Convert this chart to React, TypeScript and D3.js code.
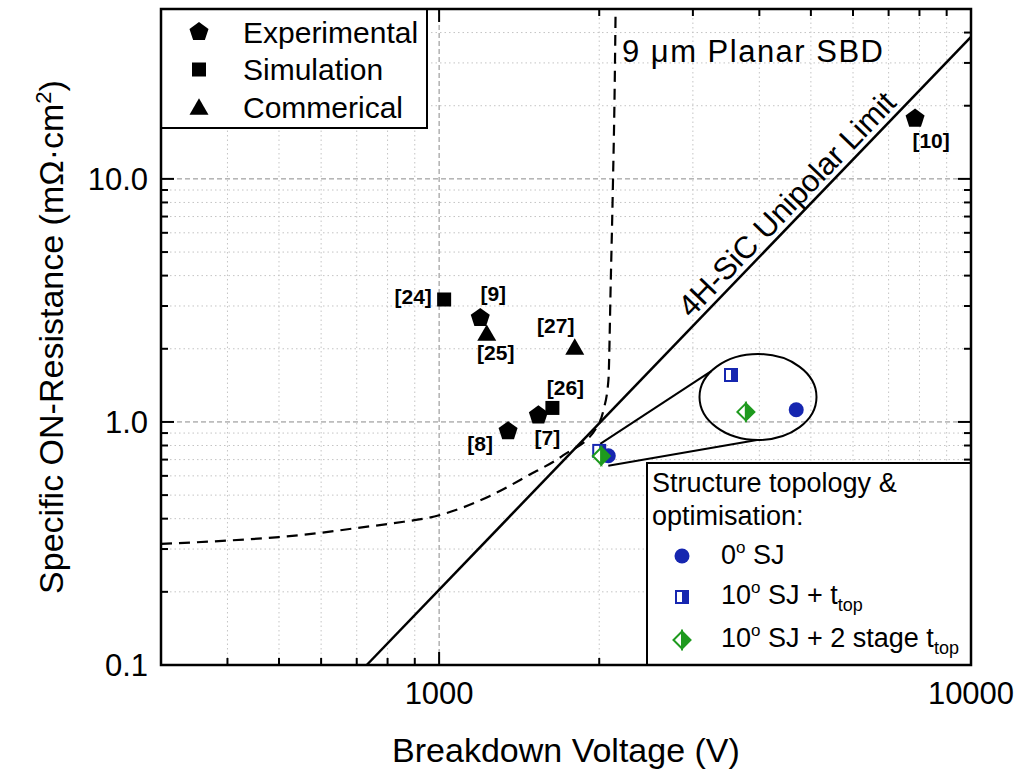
import * as d3 from "d3";

const FONT = "'Liberation Sans', Arial, Helvetica, sans-serif";

// ---------------------------------------------------------------------------
// Axes
// ---------------------------------------------------------------------------

const X_DOMAIN: [number, number] = [300, 10000];
const Y_DOMAIN: [number, number] = [0.1, 50];
const X_MAJOR = [1000, 10000];
const X_MAJOR_LABELS = ["1000", "10000"];
const Y_MAJOR = [0.1, 1, 10];
const Y_MAJOR_LABELS = ["0.1", "1.0", "10.0"];

// ---------------------------------------------------------------------------
// Literature devices (breakdown V, Ron,sp mΩ·cm²)
// ---------------------------------------------------------------------------

const EXP_REFS = ["[10]", "[9]", "[7]", "[8]"];
const EXP_V = [7850, 1195, 1537, 1348];
const EXP_R = [17.7, 2.68, 1.065, 0.916];

const SIM_REFS = ["[24]", "[26]"];
const SIM_V = [1022, 1633];
const SIM_R = [3.19, 1.142];

const COM_REFS = ["[25]", "[27]"];
const COM_V = [1229, 1799];
const COM_R = [2.32, 2.035];

// label placement around each marker (px)
const REF_LABEL_OFFSET: Record<string, [number, number]> = {
  "[10]": [16, 22],
  "[9]": [13, -24],
  "[7]": [9, 22],
  "[8]": [-28, 12],
  "[24]": [-31, -3],
  "[26]": [13, -20],
  "[25]": [9, 20],
  "[27]": [-19, -21],
};

// ---------------------------------------------------------------------------
// This work: 0° SJ, 10° SJ + t_top, 10° SJ + 2 stage t_top
// ---------------------------------------------------------------------------

const SJ_V = [2080, 2000, 2018];
const SJ_R = [0.726, 0.76, 0.724];

// ---------------------------------------------------------------------------
// Reference curves
// ---------------------------------------------------------------------------

const LIMIT_V = [731, 10000];
const LIMIT_R = [0.1, 38.4];

const SBD_V = [300, 400, 500, 600, 700, 820, 1000, 1265, 1460, 1710, 1980, 2037, 2081, 2102, 2123, 2138, 2147];
const SBD_R = [0.315, 0.325, 0.336, 0.35, 0.366, 0.383, 0.413, 0.504, 0.597, 0.728, 0.954, 1.117, 1.484, 3.72, 9.88, 23.2, 50];

const BLUE = "#1626b0";
const GREEN = "#1e9a1e";

// ---------------------------------------------------------------------------
// Marker shapes
// ---------------------------------------------------------------------------

function pentagon(r: number) {
  const pts = d3.range(5).map((i) => {
    const a = -Math.PI / 2 + (i * 2 * Math.PI) / 5;
    return [r * Math.cos(a), r * Math.sin(a)];
  });
  return "M" + pts.map((p) => p.join(",")).join("L") + "Z";
}

function triangle(w: number) {
  const h = (w * Math.sqrt(3)) / 2;
  return `M0,${-h / 2 - 0.5}L${-w / 2},${h / 2 - 0.5}L${w / 2},${h / 2 - 0.5}Z`;
}

function Marker({ kind, cx, cy }: { kind: string; cx: number; cy: number }) {
  if (kind === "exp") return <path d={pentagon(10)} transform={`translate(${cx},${cy})`} fill="#000" />;
  if (kind === "sim") return <rect x={cx - 7} y={cy - 7} width={14} height={14} fill="#000" />;
  if (kind === "com") return <path d={triangle(19)} transform={`translate(${cx},${cy})`} fill="#000" />;
  if (kind === "sj0") return <circle cx={cx} cy={cy} r={7.5} fill={BLUE} />;
  if (kind === "sj10") {
    const s = 12;
    return (
      <g>
        <rect x={cx - s / 2} y={cy - s / 2} width={s} height={s} fill="#fff" stroke={BLUE} strokeWidth={2} />
        <rect x={cx} y={cy - s / 2} width={s / 2} height={s} fill={BLUE} />
      </g>
    );
  }
  // sj10 two stage: half filled diamond
  const d = 8.5;
  return (
    <g transform={`translate(${cx},${cy})`}>
      <path d={`M0,${-d}L${-d},0L0,${d}Z`} fill="#fff" stroke={GREEN} strokeWidth={2} strokeLinejoin="miter" />
      <path d={`M0,${-d}L${d},0L0,${d}Z`} fill={GREEN} stroke={GREEN} strokeWidth={2} />
    </g>
  );
}

// ---------------------------------------------------------------------------
// Chart
// ---------------------------------------------------------------------------

export default function App() {
  const left = 161;
  const right = 971;
  const top = 9;
  const bottom = 665;

  const x = d3.scaleLog().domain(X_DOMAIN).range([left, right]);
  const y = d3.scaleLog().domain(Y_DOMAIN).range([bottom, top]);

  const xMinor = x.ticks().filter((v) => !X_MAJOR.includes(v) && v > X_DOMAIN[0] && v < X_DOMAIN[1]);
  const yMinor = y.ticks().filter((v) => !Y_MAJOR.includes(v) && v > Y_DOMAIN[0] && v < Y_DOMAIN[1]);

  const sbdLine = d3
    .line<number>()
    .x((_d, i) => x(SBD_V[i]))
    .y((_d, i) => y(SBD_R[i]))
    .curve(d3.curveMonotoneX)(SBD_V);

  // unipolar limit + rotated label
  const lA = [x(LIMIT_V[0]), y(LIMIT_R[0])];
  const lB = [x(LIMIT_V[1]), y(LIMIT_R[1])];
  const angle = (Math.atan2(lB[1] - lA[1], lB[0] - lA[0]) * 180) / Math.PI;
  const t = 0.715;
  const lblX = lA[0] + (lB[0] - lA[0]) * t;
  const lblY = lA[1] + (lB[1] - lA[1]) * t;

  const refs = [
    ...EXP_REFS.map((r, i) => ({ ref: r, kind: "exp", v: EXP_V[i], r: EXP_R[i] })),
    ...SIM_REFS.map((r, i) => ({ ref: r, kind: "sim", v: SIM_V[i], r: SIM_R[i] })),
    ...COM_REFS.map((r, i) => ({ ref: r, kind: "com", v: COM_V[i], r: COM_R[i] })),
  ];

  const sjKinds = ["sj0", "sj10", "sj10b"];
  const sj = sjKinds.map((k, i) => ({ kind: k, px: x(SJ_V[i]), py: y(SJ_R[i]) }));
  const drawOrder = [1, 0, 2];

  // magnified inset of the cluster
  const k = 7.2;
  const anchor = sj[1];
  const inset0 = [731, 375];
  const inset = sj.map((p) => ({
    kind: p.kind,
    px: inset0[0] + k * (p.px - anchor.px),
    py: inset0[1] + k * (p.py - anchor.py),
  }));
  const ell = { cx: 758, cy: 397, rx: 58.5, ry: 43 };
  const ellPt = (deg: number) => [
    ell.cx + ell.rx * Math.cos((deg * Math.PI) / 180),
    ell.cy + ell.ry * Math.sin((deg * Math.PI) / 180),
  ];
  const upEnd = ellPt(217);
  const lowEnd = ellPt(91);

  const gridMinor = { stroke: "#c4c4c4", strokeWidth: 1, strokeDasharray: "1.5,3" };
  const gridMajor = { stroke: "#8a8a8a", strokeWidth: 1, strokeDasharray: "5,3" };

  return (
    <svg
      width={1032}
      height={782}
      style={{ position: "absolute", left: 0, top: 0, background: "#fff" }}
      fontFamily={FONT}
    >
      <rect width={1032} height={782} fill="#fff" />

      {/* grid */}
      <g>
        {xMinor.map((v) => (
          <line key={`gx${v}`} x1={x(v)} x2={x(v)} y1={top} y2={bottom} {...gridMinor} />
        ))}
        {yMinor.map((v) => (
          <line key={`gy${v}`} x1={left} x2={right} y1={y(v)} y2={y(v)} {...gridMinor} />
        ))}
        {X_MAJOR.filter((v) => v < X_DOMAIN[1]).map((v) => (
          <line key={`GX${v}`} x1={x(v)} x2={x(v)} y1={top} y2={bottom} {...gridMajor} />
        ))}
        {Y_MAJOR.filter((v) => v > Y_DOMAIN[0]).map((v) => (
          <line key={`GY${v}`} x1={left} x2={right} y1={y(v)} y2={y(v)} {...gridMajor} />
        ))}
      </g>

      {/* ticks, inward on all four sides */}
      <g stroke="#000" strokeWidth={2}>
        {xMinor.map((v) => (
          <g key={`tx${v}`}>
            <line x1={x(v)} x2={x(v)} y1={bottom} y2={bottom - 7} />
            <line x1={x(v)} x2={x(v)} y1={top} y2={top + 7} />
          </g>
        ))}
        {X_MAJOR.map((v) => (
          <g key={`TX${v}`}>
            <line x1={x(v)} x2={x(v)} y1={bottom} y2={bottom - 13} />
            <line x1={x(v)} x2={x(v)} y1={top} y2={top + 13} />
          </g>
        ))}
        {yMinor.map((v) => (
          <g key={`ty${v}`}>
            <line x1={left} x2={left + 7} y1={y(v)} y2={y(v)} />
            <line x1={right} x2={right - 7} y1={y(v)} y2={y(v)} />
          </g>
        ))}
        {Y_MAJOR.map((v) => (
          <g key={`TY${v}`}>
            <line x1={left} x2={left + 13} y1={y(v)} y2={y(v)} />
            <line x1={right} x2={right - 13} y1={y(v)} y2={y(v)} />
          </g>
        ))}
      </g>

      {/* 9 um planar SBD */}
      <path d={sbdLine ?? ""} fill="none" stroke="#000" strokeWidth={2.2} strokeDasharray="11,7" />
      <text x={622} y={62} fontSize={31} textLength={261} lengthAdjust="spacing">
        9 μm Planar SBD
      </text>

      {/* unipolar limit */}
      <line x1={lA[0]} y1={lA[1]} x2={lB[0]} y2={lB[1]} stroke="#000" strokeWidth={2.5} />
      <text
        transform={`translate(${lblX},${lblY}) rotate(${angle})`}
        textAnchor="middle"
        dy={-6}
        fontSize={31}
      >
        4H-SiC Unipolar Limit
      </text>

      {/* literature */}
      {refs.map((d) => {
        const cx = x(d.v);
        const cy = y(d.r);
        const [dx, dy] = REF_LABEL_OFFSET[d.ref];
        return (
          <g key={d.ref}>
            <Marker kind={d.kind} cx={cx} cy={cy} />
            <text
              x={cx + dx}
              y={cy + dy}
              dy="0.35em"
              textAnchor="middle"
              fontSize={21}
              fontWeight="bold"
            >
              {d.ref}
            </text>
          </g>
        );
      })}

      {/* inset connectors + ellipse */}
      <g stroke="#000" strokeWidth={2} fill="none">
        <line x1={sj[1].px + 1} y1={sj[1].py - 7} x2={upEnd[0]} y2={upEnd[1]} />
        <line x1={sj[0].px} y1={sj[0].py + 10} x2={lowEnd[0]} y2={lowEnd[1]} />
        <ellipse cx={ell.cx} cy={ell.cy} rx={ell.rx} ry={ell.ry} />
      </g>

      {/* this work */}
      {drawOrder.map((i) => (
        <Marker key={`m${i}`} kind={sj[i].kind} cx={sj[i].px} cy={sj[i].py} />
      ))}
      {drawOrder.map((i) => (
        <Marker key={`z${i}`} kind={inset[i].kind} cx={inset[i].px} cy={inset[i].py} />
      ))}

      {/* legend: literature */}
      <g>
        <rect x={left} y={top} width={266} height={119} fill="#fff" stroke="#000" strokeWidth={2} />
        {[
          ["exp", "Experimental"],
          ["sim", "Simulation"],
          ["com", "Commerical"],
        ].map(([kd, lab], i) => (
          <g key={kd}>
            <Marker kind={kd} cx={199} cy={32 + i * 37.5} />
            <text x={243} y={32 + i * 37.5} dy="0.35em" fontSize={30}>
              {lab}
            </text>
          </g>
        ))}
      </g>

      {/* legend: structure */}
      <g>
        <rect x={647} y={463} width={right - 647} height={bottom - 463} fill="#fff" stroke="#000" strokeWidth={2} />
        <text x={652} y={492} fontSize={27}>
          Structure topology &amp;
        </text>
        <text x={652} y={525} fontSize={27}>
          optimisation:
        </text>
        <Marker kind="sj0" cx={682} cy={556} />
        <text x={721} y={564} fontSize={27}>
          0<tspan dy={-11} fontSize={17}>o</tspan>
          <tspan dy={11}> SJ</tspan>
        </text>
        <Marker kind="sj10" cx={682} cy={597} />
        <text x={721} y={604} fontSize={27}>
          10<tspan dy={-11} fontSize={17}>o</tspan>
          <tspan dy={11}> SJ + t</tspan>
          <tspan dy={7} fontSize={18}>top</tspan>
        </text>
        <Marker kind="sj10b" cx={682} cy={640} />
        <text x={721} y={647} fontSize={27}>
          10<tspan dy={-11} fontSize={17}>o</tspan>
          <tspan dy={11}> SJ + 2 stage t</tspan>
          <tspan dy={7} fontSize={18}>top</tspan>
        </text>
      </g>

      {/* frame */}
      <rect x={left} y={top} width={right - left} height={bottom - top} fill="none" stroke="#000" strokeWidth={2.5} />

      {/* tick labels */}
      {X_MAJOR.map((v, i) => (
        <text key={`lx${v}`} x={x(v)} y={704} textAnchor="middle" fontSize={31}>
          {X_MAJOR_LABELS[i]}
        </text>
      ))}
      {Y_MAJOR.map((v, i) => (
        <text key={`ly${v}`} x={148} y={y(v)} dy="0.35em" textAnchor="end" fontSize={31}>
          {Y_MAJOR_LABELS[i]}
        </text>
      ))}

      {/* axis titles */}
      <text x={566} y={762} textAnchor="middle" fontSize={34}>
        Breakdown Voltage (V)
      </text>
      <text transform="translate(63,337) rotate(-90)" textAnchor="middle" fontSize={34}>
        Specific ON-Resistance (mΩ·cm<tspan dy={-12} fontSize={22}>2</tspan>
        <tspan dy={12}>)</tspan>
      </text>
    </svg>
  );
}
